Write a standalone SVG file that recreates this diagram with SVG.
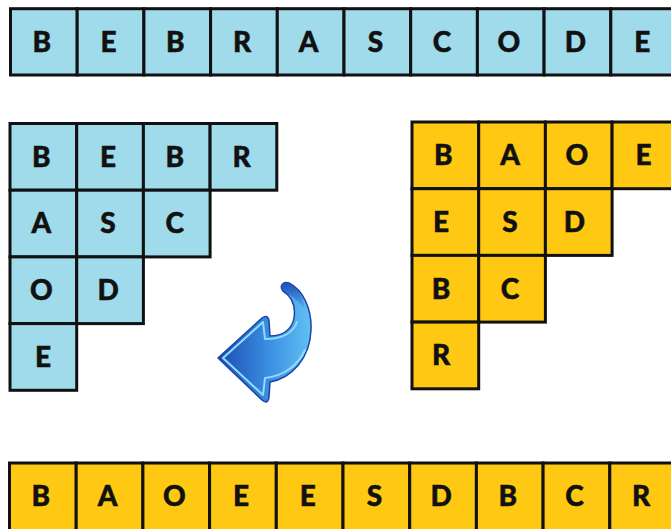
<svg xmlns="http://www.w3.org/2000/svg" width="671" height="529" viewBox="0 0 671 529">
  <style>
    .b { fill: #9fdbea; stroke: #111; stroke-width: 3; }
    .y { fill: #ffc913; stroke: #111; stroke-width: 3; }
    text { font-family: Lato, "Open Sans", "Liberation Sans", sans-serif; font-weight: 900; font-size: 28px; fill: #111; stroke: #111; stroke-width: 0.5; text-anchor: middle; }
  </style>
  <defs>
    <linearGradient id="arrowFill" x1="0" y1="0" x2="1" y2="0">
      <stop offset="0" stop-color="#1a4cb4"/>
      <stop offset="0.55" stop-color="#3a8fe0"/>
      <stop offset="1" stop-color="#62c0f4"/>
    </linearGradient>
    <linearGradient id="tailShade" x1="0" y1="0" x2="0" y2="1">
      <stop offset="0" stop-color="#1f4fb8"/>
      <stop offset="1" stop-color="#1f4fb8" stop-opacity="0"/>
    </linearGradient>
  </defs>

  <!-- top row: source string -->
  <g id="top-row">
    <g id="t0" transform="translate(10.5 8.7)"><rect class="b" width="66.7" height="66.3"/><text x="31.4" y="43.3">B</text></g>
    <g id="t1" transform="translate(77.2 8.7)"><rect class="b" width="66.7" height="66.3"/><text x="31.4" y="43.3">E</text></g>
    <g id="t2" transform="translate(143.9 8.7)"><rect class="b" width="66.7" height="66.3"/><text x="31.4" y="43.3">B</text></g>
    <g id="t3" transform="translate(210.6 8.7)"><rect class="b" width="66.7" height="66.3"/><text x="31.4" y="43.3">R</text></g>
    <g id="t4" transform="translate(277.3 8.7)"><rect class="b" width="66.7" height="66.3"/><text x="31.4" y="43.3">A</text></g>
    <g id="t5" transform="translate(344 8.7)"><rect class="b" width="66.7" height="66.3"/><text x="31.4" y="43.3">S</text></g>
    <g id="t6" transform="translate(410.7 8.7)"><rect class="b" width="66.7" height="66.3"/><text x="31.4" y="43.3">C</text></g>
    <g id="t7" transform="translate(477.4 8.7)"><rect class="b" width="66.7" height="66.3"/><text x="31.4" y="43.3">O</text></g>
    <g id="t8" transform="translate(544.1 8.7)"><rect class="b" width="66.7" height="66.3"/><text x="31.4" y="43.3">D</text></g>
    <g id="t9" transform="translate(610.8 8.7)"><rect class="b" width="66.7" height="66.3"/><text x="31.4" y="43.3">E</text></g>
  </g>

  <!-- left triangle: string laid out along diagonals -->
  <g id="left-grid">
    <g id="l00" transform="translate(10 123.5)"><rect class="b" width="66.7" height="66.7"/><text x="31.4" y="43.3">B</text></g>
    <g id="l01" transform="translate(76.7 123.5)"><rect class="b" width="66.7" height="66.7"/><text x="31.4" y="43.3">E</text></g>
    <g id="l02" transform="translate(143.4 123.5)"><rect class="b" width="66.7" height="66.7"/><text x="31.4" y="43.3">B</text></g>
    <g id="l03" transform="translate(210.1 123.5)"><rect class="b" width="66.7" height="66.7"/><text x="31.4" y="43.3">R</text></g>
    <g id="l10" transform="translate(10 190.2)"><rect class="b" width="66.7" height="66.7"/><text x="31.4" y="43.3">A</text></g>
    <g id="l11" transform="translate(76.7 190.2)"><rect class="b" width="66.7" height="66.7"/><text x="31.4" y="43.3">S</text></g>
    <g id="l12" transform="translate(143.4 190.2)"><rect class="b" width="66.7" height="66.7"/><text x="31.4" y="43.3">C</text></g>
    <g id="l20" transform="translate(10 256.9)"><rect class="b" width="66.7" height="66.7"/><text x="31.4" y="43.3">O</text></g>
    <g id="l21" transform="translate(76.7 256.9)"><rect class="b" width="66.7" height="66.7"/><text x="31.4" y="43.3">D</text></g>
    <g id="l30" transform="translate(10 323.6)"><rect class="b" width="66.7" height="66.7"/><text x="33" y="43.3">E</text></g>
  </g>

  <!-- right triangle: transposed layout -->
  <g id="right-grid">
    <g id="r00" transform="translate(412 122)"><rect class="y" width="66.7" height="66.7"/><text x="31.4" y="43.3">B</text></g>
    <g id="r01" transform="translate(478.7 122)"><rect class="y" width="66.7" height="66.7"/><text x="31.4" y="43.3">A</text></g>
    <g id="r02" transform="translate(545.4 122)"><rect class="y" width="66.7" height="66.7"/><text x="31.4" y="43.3">O</text></g>
    <g id="r03" transform="translate(612.1 122)"><rect class="y" width="66.7" height="66.7"/><text x="31.4" y="43.3">E</text></g>
    <g id="r10" transform="translate(412 188.7)"><rect class="y" width="66.7" height="66.7"/><text x="29" y="43.3">E</text></g>
    <g id="r11" transform="translate(478.7 188.7)"><rect class="y" width="66.7" height="66.7"/><text x="31.4" y="43.3">S</text></g>
    <g id="r12" transform="translate(545.4 188.7)"><rect class="y" width="66.7" height="66.7"/><text x="29" y="43.3">D</text></g>
    <g id="r20" transform="translate(412 255.4)"><rect class="y" width="66.7" height="66.7"/><text x="29" y="43.3">B</text></g>
    <g id="r21" transform="translate(478.7 255.4)"><rect class="y" width="66.7" height="66.7"/><text x="31.4" y="43.3">C</text></g>
    <g id="r30" transform="translate(412 322.1)"><rect class="y" width="66.7" height="66.7"/><text x="29" y="43.3">R</text></g>
  </g>

  <!-- bottom row: result string -->
  <g id="bottom-row">
    <g id="b0" transform="translate(9.5 463)"><rect class="y" width="66.7" height="70"/><text x="31.4" y="43.3">B</text></g>
    <g id="b1" transform="translate(76.2 463)"><rect class="y" width="66.7" height="70"/><text x="31.4" y="43.3">A</text></g>
    <g id="b2" transform="translate(142.9 463)"><rect class="y" width="66.7" height="70"/><text x="31.4" y="43.3">O</text></g>
    <g id="b3" transform="translate(209.6 463)"><rect class="y" width="66.7" height="70"/><text x="31.4" y="43.3">E</text></g>
    <g id="b4" transform="translate(276.3 463)"><rect class="y" width="66.7" height="70"/><text x="31.4" y="43.3">E</text></g>
    <g id="b5" transform="translate(343 463)"><rect class="y" width="66.7" height="70"/><text x="31.4" y="43.3">S</text></g>
    <g id="b6" transform="translate(409.7 463)"><rect class="y" width="66.7" height="70"/><text x="31.4" y="43.3">D</text></g>
    <g id="b7" transform="translate(476.4 463)"><rect class="y" width="66.7" height="70"/><text x="31.4" y="43.3">B</text></g>
    <g id="b8" transform="translate(543.1 463)"><rect class="y" width="66.7" height="70"/><text x="31.4" y="43.3">C</text></g>
    <g id="b9" transform="translate(609.8 463)"><rect class="y" width="66.7" height="70"/><text x="31.4" y="43.3">R</text></g>
  </g>

  <!-- curved return arrow -->
  <g id="arrow">
    <path d="M218,358 L262,318 Q268,314 269,321 L270,336 C282,336 292,330 294,318 C296,305 291,296 283,291 C279,286 283,281 289,283 C303,290 312,309 311,330 C310,358 292,378 270,382 L269,397 Q268,405 262,400 Z"
          fill="url(#arrowFill)" stroke="#1c43a8" stroke-width="1.5" stroke-linejoin="round"/>
    <path d="M283,291 C279,286 283,281 289,283 C298,288 304,298 305,310 C300,302 292,296 283,291 Z" fill="url(#tailShade)"/>
    <path d="M223,358 L263,322 L265,339 C280,339 293,334 297,322 M223,358 L263,395 L265,378 C283,376 298,366 305,350"
          fill="none" stroke="#8fdcff" stroke-width="2" stroke-linejoin="round" stroke-linecap="round"/>
  </g>
</svg>
